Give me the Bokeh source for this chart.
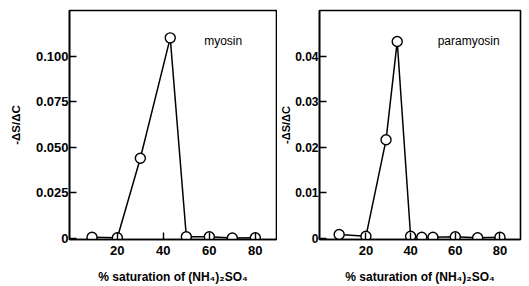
from bokeh.plotting import figure
from bokeh.layouts import row
from bokeh.models import Range1d, FixedTicker, Label
from bokeh.embed import file_html
from bokeh.resources import INLINE

# myosin panel
myo_x = [9, 20, 30, 43, 50, 60, 70, 80]
myo_y = [0.0007, 0.0005, 0.0440, 0.1100, 0.0010, 0.0010, 0.0003, 0.0005]
myo_yticks = [0, 0.025, 0.050, 0.075, 0.100]
myo_ylabels = ["0", "0.025", "0.050", "0.075", "0.100"]

# paramyosin panel
par_x = [8, 20, 29, 34, 40, 45, 50, 60, 70, 80]
par_y = [0.0008, 0.0004, 0.0216, 0.0432, 0.0004, 0.0002, 0.0002, 0.0003, 0.0001, 0.0002]
par_yticks = [0, 0.01, 0.02, 0.03, 0.04]
par_ylabels = ["0", "0.01", "0.02", "0.03", "0.04"]

xticks = [20, 40, 60, 80]
xlabel = "% saturation of (NH\u2084)\u2082SO\u2084"
ylabel = "-\u0394S/\u0394C"
FONT = "Liberation Sans"

XR = (-0.8, 89.2)


def make_panel(xs, ys, yticks, ylabels, yr, name, width, bl, br, ystand, yfs, yts):
    p = figure(width=width, height=286, output_backend="svg", toolbar_location=None,
               x_range=Range1d(*XR), y_range=Range1d(*yr),
               min_border_left=bl, min_border_right=br, min_border_top=10, min_border_bottom=46)
    p.grid.visible = False
    p.outline_line_color = "black"
    p.outline_line_width = 1.6
    p.background_fill_color = "white"
    p.border_fill_color = "white"
    for ax in (p.xaxis[0], p.yaxis[0]):
        ax.axis_line_color = "black"
        ax.axis_line_width = 1.6
        ax.major_tick_in = 7
        ax.major_tick_out = 0
        ax.major_tick_line_width = 1.4
        ax.minor_tick_line_color = None
        ax.major_label_text_font = FONT
        ax.major_label_text_font_style = "bold"
        ax.major_label_text_font_size = "13px"
        ax.major_label_text_color = "black"
        ax.axis_label_text_font = FONT
        ax.axis_label_text_font_style = "bold"
        ax.axis_label_text_font_size = "12px"
        ax.axis_label_text_color = "black"
    p.yaxis.major_label_text_font_size = yfs
    p.yaxis.axis_label_text_font_size = yts
    p.xaxis.ticker = FixedTicker(ticks=xticks)
    p.xaxis.major_label_standoff = 6
    p.xaxis.axis_label = xlabel
    p.xaxis.axis_label_standoff = 12
    p.yaxis.ticker = FixedTicker(ticks=yticks)
    p.yaxis.major_label_overrides = {t: l for t, l in zip(yticks, ylabels)}
    p.yaxis.major_label_standoff = 1
    p.yaxis.axis_label = ylabel
    p.yaxis.axis_label_standoff = ystand
    p.line(xs, ys, line_color="black", line_width=1.5)
    p.scatter(xs, ys, marker="circle", size=10, fill_color="white", line_color="black", line_width=1.4)
    p.add_layout(Label(x=66, y=yr[1] * 0.865, text=name, text_align="center", text_baseline="middle",
                       text_font=FONT, text_font_size="12px", text_color="black"))
    return p


p1 = make_panel(myo_x, myo_y, myo_yticks, myo_ylabels, (-0.0005, 0.125), "myosin", 277, 69, 1, 11, "13px", "11.5px")
p2 = make_panel(par_x, par_y, par_yticks, par_ylabels, (-0.0003, 0.050), "paramyosin", 250, 39, 7, 0, "12px", "11px")

layout = row(p1, p2)
open("out.html", "w").write(file_html(layout, INLINE))
